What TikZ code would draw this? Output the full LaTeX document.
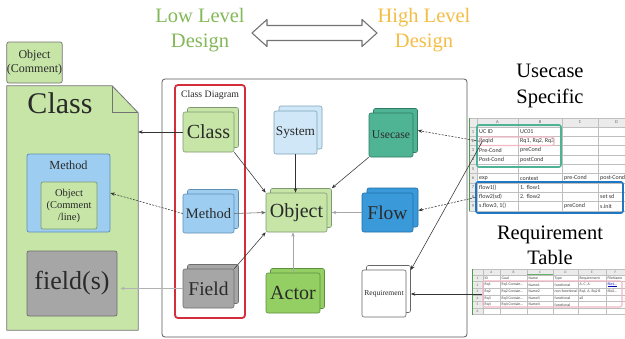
\documentclass[tikz,border=0pt]{standalone}
\usepackage{fontspec}
\setmainfont{Liberation Serif}
\newfontfamily\xlfont{Carlito}
\usetikzlibrary{calc,arrows.meta}

\definecolor{lgreen}{HTML}{C6E5A7}
\definecolor{lgreenD}{HTML}{7F9A72}
\definecolor{mblue}{HTML}{9DCEF1}
\definecolor{mblueD}{HTML}{5F8FB0}
\definecolor{sblue}{HTML}{CFE7F7}
\definecolor{sblueD}{HTML}{7FA3BA}
\definecolor{ucteal}{HTML}{4FB493}
\definecolor{uctealD}{HTML}{2E7A63}
\definecolor{flowblue}{HTML}{3A9AD9}
\definecolor{flowblueD}{HTML}{1F6DA6}
\definecolor{fgray}{HTML}{A6A6A6}
\definecolor{fgrayD}{HTML}{6E6E6E}
\definecolor{actgreen}{HTML}{93CF63}
\definecolor{actgreenD}{HTML}{5E8F3E}
\definecolor{redbox}{HTML}{D42E3A}
\definecolor{lowgreen}{HTML}{84B95A}
\definecolor{highor}{HTML}{F3BE45}
\definecolor{tabteal}{HTML}{4DB394}
\definecolor{tabblue}{HTML}{1F77C4}
\definecolor{tabpink}{HTML}{F2B8C6}
\definecolor{txt}{HTML}{2A2A2A}

\tikzset{
  stk/.style n args={2}{draw=#2, fill=#1, line width=0.6pt, rounded corners=2pt, inner sep=0pt,
     text=txt, align=center},
  flat/.style n args={2}{draw=#2, fill=#1, line width=0.7pt, rounded corners=2pt, inner sep=0pt,
     text=txt, align=center},
  arr/.style={-{Stealth[length=4.5pt,width=3.4pt]}, line width=0.55pt, draw=#1},
  arr/.default={black!80},
  cellA/.style={font=\xlfont\fontsize{6}{6}\selectfont, anchor=west, inner sep=0pt, text=black!80},
  cellB/.style={font=\xlfont\fontsize{3.8}{4}\selectfont, anchor=west, inner sep=0pt, text=black!75},
  hdr/.style={font=\xlfont\fontsize{4.5}{5}\selectfont, inner sep=0pt, text=black!60},
}

\begin{document}
\begin{tikzpicture}[x=1pt,y=-1pt]
\useasboundingbox (0,0) rectangle (625,338);
\fill[white] (0,0) rectangle (625,338);

% ---------- titles ----------
\node[font=\fontsize{20.5}{25}\selectfont, text=lowgreen, align=center] (low) at (200,30.5) {Low Level\\Design};
\node[font=\fontsize{20.5}{25}\selectfont, text=highor, align=center] (high) at (424,30.5) {High Level\\Design};
\filldraw[fill=white, draw=black!55, line width=1.1pt, line join=round]
  (252,33) -- (267,19.5) -- (267,25.5) -- (362,25.5) -- (362,19.5) -- (377,33)
  -- (362,46.5) -- (362,40.5) -- (267,40.5) -- (267,46.5) -- cycle;

\node[font=\fontsize{20.5}{26}\selectfont, text=black, align=center] (ucspec) at (550,86) {Usecase\\Specific};
\node[font=\fontsize{20.5}{25}\selectfont, text=black, align=center] (reqtab) at (550,245.5) {Requirement\\Table};

% ---------- left side ----------
\node[flat={lgreen}{black!55}, minimum width=55pt, minimum height=41pt,
      font=\fontsize{12}{13.5}\selectfont] (objc) at (34.5,62.5) {Object\\(Comment)};

\node[minimum width=131pt, minimum height=244pt, inner sep=0pt] (classdoc) at (72.5,208) {};
\filldraw[fill=lgreen, draw=black!55, line width=0.8pt, line join=round]
  (classdoc.north west) -- ($(classdoc.north east)+(-26,0)$) -- ($(classdoc.north east)+(0,27)$)
  -- (classdoc.south east) -- (classdoc.south west) -- cycle;
\draw[black!55, line width=0.8pt, line join=round]
  ($(classdoc.north east)+(-26,0)$) |- ($(classdoc.north east)+(0,27)$);
\node[font=\fontsize{30}{30}\selectfont, text=txt] (doctitle) at (60,103) {Class};

\node[flat={mblue}{mblueD}, minimum width=83pt, minimum height=78pt] (methodbox) at (68.5,193) {};
\node[font=\fontsize{12.3}{13}\selectfont, text=txt] (methodlbl) at (68.5,165) {Method};
\node[flat={lgreen}{lgreenD}, minimum width=56pt, minimum height=47pt,
      font=\fontsize{10.5}{12}\selectfont] (innerobj) at (69,205.5) {Object\\(Comment\\/line)};
\node[flat={fgray}{fgrayD}, minimum width=90pt, minimum height=65pt,
      font=\fontsize{26}{26}\selectfont] (fieldbox) at (72,283.5) {field(s)};

% ---------- central frame ----------
\node[draw=black!65, line width=0.8pt, rounded corners=3pt, fill=white, inner sep=0pt,
      minimum width=305pt, minimum height=258pt] (frame) at (314.5,208) {};
\node[draw=redbox, line width=1.8pt, rounded corners=3pt, inner sep=0pt,
      minimum width=70pt, minimum height=233pt] (cdbox) at (210,201.5) {};
\node[font=\fontsize{9.8}{11}\selectfont, text=txt] (cdlabel) at (210,95) {Class Diagram};

% stacked nodes: back copy first (shifted up-right), then front
\node[stk={lgreen}{lgreenD}, minimum width=51pt, minimum height=40pt] (cdClassB) at (213,127.5) {};
\node[stk={lgreen}{lgreenD}, minimum width=51pt, minimum height=40pt, font=\fontsize{20}{20}\selectfont] (cdClass) at (208.5,132) {Class};
\node[stk={mblue}{mblueD}, minimum width=51pt, minimum height=39pt] (cdMethodB) at (213,209) {};
\node[stk={mblue}{mblueD}, minimum width=51pt, minimum height=39pt, font=\fontsize{14.5}{15}\selectfont] (cdMethod) at (208.5,213.5) {Method};
\node[stk={fgray}{fgrayD}, minimum width=51pt, minimum height=39pt] (cdFieldB) at (213,284) {};
\node[stk={fgray}{fgrayD}, minimum width=51pt, minimum height=39pt, font=\fontsize{19.5}{20}\selectfont] (cdField) at (208.5,288.5) {Field};
\node[stk={sblue}{sblueD}, minimum width=43pt, minimum height=43pt] (sysB) at (300.5,127.5) {};
\node[stk={sblue}{sblueD}, minimum width=43pt, minimum height=43pt, font=\fontsize{13.3}{14}\selectfont] (sys) at (295.5,132.5) {System};
\node[stk={lgreen}{lgreenD}, minimum width=61pt, minimum height=39pt] (objB) at (301,208) {};
\node[stk={lgreen}{lgreenD}, minimum width=61pt, minimum height=39pt, font=\fontsize{20}{20}\selectfont] (obj) at (296.5,212.5) {Object};
\node[stk={actgreen}{actgreenD}, minimum width=54pt, minimum height=40pt] (actorB) at (297.5,288.5) {};
\node[stk={actgreen}{actgreenD}, minimum width=54pt, minimum height=40pt, font=\fontsize{20}{20}\selectfont] (actor) at (293,293) {Actor};
\node[stk={ucteal}{uctealD}, minimum width=44pt, minimum height=44pt] (ucB) at (395.5,130.5) {};
\node[stk={ucteal}{uctealD}, minimum width=44pt, minimum height=44pt, font=\fontsize{11.7}{12}\selectfont] (uc) at (391,135) {Usecase};
\node[stk={flowblue}{flowblueD}, minimum width=51pt, minimum height=39pt] (flowB) at (392.5,207.5) {};
\node[stk={flowblue}{flowblueD}, minimum width=51pt, minimum height=39pt, font=\fontsize{19.5}{20}\selectfont] (flow) at (387.5,212.5) {Flow};
\node[stk={white}{black!60}, minimum width=44pt, minimum height=47pt] (reqB) at (388.5,289) {};
\node[stk={white}{black!60}, minimum width=44pt, minimum height=47pt, font=\fontsize{7.6}{8}\selectfont] (req) at (384,293.5) {Requirement};

% ---------- central connectors ----------
\draw[arr] (cdClass.south east) -- (obj.north west);
\draw[arr] (sys.south) -- (sys.south |- obj.north);
\draw[arr] (uc.south west) -- (objB.north east);
\draw[arr=black!60] (cdMethod.east) -- (obj.west);
\draw[arr=black!35] (flow.west) -- (objB.east |- flow.west);
\draw[arr] (cdField.north east) -- (obj.south west);
\draw[arr=black!35] (actor.north) -- (actor.north |- obj.south);

% ---------- to the left side ----------
\draw[arr] (cdClass.west) -- (classdoc.east |- cdClass.west);
\draw[arr, dashed, dash pattern=on 2pt off 1.3pt] (cdMethod.west) -- (methodbox.east);
\draw[arr=black!30] (cdField.west) -- ($(fieldbox.east |- cdField.west)+(3,0)$);

% ---------- usecase table ----------
\fill[white] (469,118) rectangle (625,211);
\fill[black!8] (469,118) rectangle (625,127);
\fill[black!8] (469,127) rectangle (477,211);
\foreach \k in {0,...,9} \draw[black!25, line width=0.3pt] (469,127+9.3*\k) -- (625,127+9.3*\k);
\draw[black!25, line width=0.3pt] (469,118) -- (625,118);
\foreach \xx in {477,518,562,598} \draw[black!25, line width=0.3pt] (\xx,118) -- (\xx,211);
\draw[green!45!black!70, line width=0.9pt] (469.5,118) -- (469.5,211);
\node[hdr] (uhA) at (497.5,122.5) {A};
\node[hdr] (uhB) at (540,122.5) {B};
\node[hdr] (uhC) at (580,122.5) {C};
\node[hdr] (uhD) at (616.5,122.5) {D};
\foreach \k in {1,...,9} \node[hdr] (ur\k) at (473,122.35+9.3*\k) {\k};

\node[cellA] (u1a) at (479,131.65) {UC ID};
\node[cellA] (u1b) at (520,131.65) {UC01};
\node[cellA] (u2a) at (479,140.95) {ReqId};
\node[cellA] (u2b) at (520,140.95) {Rq1, Rq2, Rq3};
\node[cellA] (u3a) at (479,150.25) {Pre-Cond};
\node[cellA] (u3b) at (520,150.25) {preCond};
\node[cellA] (u4a) at (479,159.55) {Post-Cond};
\node[cellA] (u4b) at (520,159.55) {postCond};
\node[cellA] (u6a) at (479,178.15) {exp};
\node[cellA] (u6b) at (520,178.15) {context};
\node[cellA] (u6c) at (564,178.15) {pre-Cond};
\node[cellA] (u6d) at (600,178.15) {post-Cond};
\node[cellA] (u7a) at (479,187.45) {flow1()};
\node[cellA] (u7b) at (520,187.45) {1. flow1};
\node[cellA] (u8a) at (479,196.75) {flow2(sd)};
\node[cellA] (u8b) at (520,196.75) {2. flow2};
\node[cellA] (u8d) at (600,196.75) {set sd};
\node[cellA] (u9a) at (479,206.05) {s.flow3, 1()};
\node[cellA] (u9c) at (564,206.05) {preCond};
\node[cellA] (u9d) at (600,206.05) {s.init};

\node[draw=tabteal, line width=1.6pt, rounded corners=2pt, inner sep=0pt,
      minimum width=84pt, minimum height=42pt] (greenbox) at (519,146) {};
\node[draw=tabpink, line width=1.1pt, rounded corners=1.5pt, inner sep=0pt,
      minimum width=74pt, minimum height=8.5pt] (pinkbox) at (517,141.25) {};
\node[draw=tabblue, line width=1.6pt, rounded corners=2pt, inner sep=0pt,
      minimum width=147pt, minimum height=31pt] (bluebox) at (549.5,197.5) {};

% ---------- requirement table ----------
\fill[white] (472,269) rectangle (625,315);
\fill[black!8] (472,269) rectangle (625,275);
\fill[black!8] (472,275) rectangle (483,315);
\foreach \k in {0,...,6} \draw[black!25, line width=0.3pt] (472,275+6.6*\k) -- (625,275+6.6*\k);
\draw[black!25, line width=0.3pt] (472,269) -- (625,269);
\foreach \xx in {483,500,527,553,578,606} \draw[black!25, line width=0.3pt] (\xx,269) -- (\xx,315);
\draw[green!45!black!70, line width=0.9pt] (472.5,269) -- (472.5,315);
\draw[green!50!black!60, line width=0.9pt] (527,274.6) -- (553,274.6);
\node[hdr, font=\xlfont\fontsize{3.5}{4}\selectfont] (rhA) at (491.5,272) {A};
\node[hdr, font=\xlfont\fontsize{3.5}{4}\selectfont] (rhB) at (513.5,272) {B};
\node[hdr, font=\xlfont\fontsize{3.5}{4}\selectfont] (rhC) at (540,272) {C};
\node[hdr, font=\xlfont\fontsize{3.5}{4}\selectfont] (rhD) at (565.5,272) {D};
\node[hdr, font=\xlfont\fontsize{3.5}{4}\selectfont] (rhE) at (592,272) {E};
\node[hdr, font=\xlfont\fontsize{3.5}{4}\selectfont] (rhF) at (615.5,272) {F};
\foreach \k in {1,...,6} \node[hdr, font=\xlfont\fontsize{3.5}{4}\selectfont] (rr\k) at (477.5,271.7+6.6*\k) {\k};

\node[cellB] (r1a) at (484.5,278.3) {ID};
\node[cellB] (r1b) at (501.5,278.3) {Goal};
\node[cellB] (r1c) at (528.5,278.3) {Name};
\node[cellB] (r1d) at (554.5,278.3) {Type};
\node[cellB] (r1e) at (579.5,278.3) {Requirement};
\node[cellB] (r1f) at (607.5,278.3) {FileName};
\node[cellB] (r2a) at (484.5,284.9) {Rq1};
\node[cellB] (r2b) at (501.5,284.9) {Rq1 Contain...};
\node[cellB] (r2c) at (528.5,284.9) {Name1};
\node[cellB] (r2d) at (554.5,284.9) {functional};
\node[cellB] (r2e) at (579.5,284.9) {A, C, A};
\node[cellB, text=blue!70!black] (r2f) at (607.5,284.9) {\underline{file1...}};
\node[cellB] (r3a) at (484.5,291.5) {Rq2};
\node[cellB] (r3b) at (501.5,291.5) {Rq2 Contain...};
\node[cellB] (r3c) at (528.5,291.5) {Name2};
\node[cellB] (r3d) at (554.5,291.5) {non-functional};
\node[cellB] (r3e) at (579.5,291.5) {Rq1, A, Rq2 B};
\node[cellB] (r3f) at (607.5,291.5) {file2...};
\node[cellB] (r4a) at (484.5,298.1) {Rq3};
\node[cellB] (r4b) at (501.5,298.1) {Rq3 Contain...};
\node[cellB] (r4c) at (528.5,298.1) {Name3};
\node[cellB] (r4d) at (554.5,298.1) {functional};
\node[cellB] (r4e) at (579.5,298.1) {all};
\node[cellB] (r5a) at (484.5,304.7) {Rq4};
\node[cellB] (r5b) at (501.5,304.7) {Rq4 Contain...};
\node[cellB] (r5c) at (528.5,304.7) {Name4};
\node[cellB] (r5d) at (554.5,304.7) {functional};

\node[draw=tabpink, line width=1.1pt, rounded corners=2pt, inner sep=0pt,
      minimum width=139pt, minimum height=26pt] (reqpink) at (552.5,294) {};

% ---------- right connectors ----------
\draw[arr, dashed, dash pattern=on 2pt off 1.3pt] (pinkbox.west) -- (ucB.east);
\draw[arr, dashed, dash pattern=on 2pt off 1.3pt] (bluebox.west) -- ($(flowB.east)+(0,3)$);
\draw[arr] ($(pinkbox.west)+(3,0)$) -- ($(reqB.east)+(0,-19)$);
\draw[arr] (reqpink.west) -- (reqB.east |- reqpink.west);
\end{tikzpicture}
\end{document}
